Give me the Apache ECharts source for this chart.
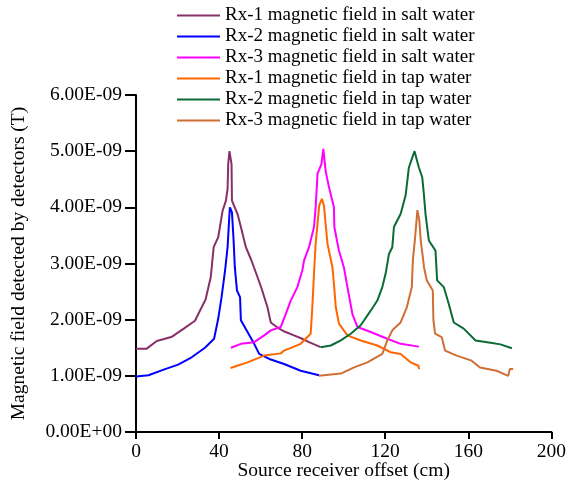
<!DOCTYPE html>
<html>
<head>
<meta charset="utf-8">
<script src="https://cdn.jsdelivr.net/npm/echarts@6/dist/echarts.min.js"></script>
<style>
html,body{margin:0;padding:0;background:#fff;}
#chart{width:569px;height:495px;}
</style>
</head>
<body>
<div id="chart"></div>
<script>
// values in units of 1E-09 T, offsets in cm
var names = [
    'Rx-1 magnetic field in salt water',
    'Rx-2 magnetic field in salt water',
    'Rx-3 magnetic field in salt water',
    'Rx-1 magnetic field in tap water',
    'Rx-2 magnetic field in tap water',
    'Rx-3 magnetic field in tap water'
];
var colors = ['#873068', '#0000ff', '#ff00ff', '#ff6600', '#0a6b35', '#cf6e35'];

var rx1SaltX = [0, 5, 10, 17, 23, 28.4, 30, 33.5, 36, 37.4, 39.6, 41.7, 43.3, 44.1, 44.4, 45, 46, 46.2, 48.9, 50.5, 52.9, 55.3, 58.5, 60.5, 63.3, 64.9, 68.1, 72, 76.1, 80, 83.3, 88.9];
var rx1SaltY = [1.48, 1.48, 1.62, 1.69, 1.84, 1.98, 2.10, 2.36, 2.76, 3.29, 3.47, 3.94, 4.12, 4.33, 4.77, 5.0, 4.77, 4.12, 3.88, 3.65, 3.29, 3.08, 2.76, 2.55, 2.22, 1.95, 1.86, 1.78, 1.72, 1.66, 1.60, 1.51];

var rx2SaltX = [0, 6, 14, 20.3, 26.8, 33.2, 37.6, 39.6, 41.2, 42.9, 44.1, 44.9, 45.2, 46.2, 47, 47.6, 48.6, 50.1, 50.5, 53.7, 56.9, 59.3, 64.9, 71.3, 79.3, 88.1];
var rx2SaltY = [0.99, 1.01, 1.12, 1.20, 1.33, 1.50, 1.66, 2.02, 2.40, 2.88, 3.29, 3.82, 4.00, 3.91, 3.41, 2.93, 2.52, 2.40, 1.99, 1.78, 1.57, 1.39, 1.29, 1.21, 1.09, 1.01];

var rx3SaltX = [45.7, 50.5, 56.9, 61.7, 64.9, 69.7, 72.1, 74.5, 77.7, 80.1, 80.9, 83.3, 85.7, 86.5, 87.4, 89.3, 90.2, 91.3, 92.9, 95.3, 95.5, 97.7, 100.1, 101.8, 104.2, 106.6, 113, 121, 127.4, 136.2];
var rx3SaltY = [1.50, 1.57, 1.60, 1.72, 1.81, 1.87, 2.10, 2.34, 2.58, 2.88, 3.05, 3.29, 3.65, 4.0, 4.60, 4.77, 5.04, 4.65, 4.36, 4.0, 3.65, 3.23, 2.93, 2.58, 2.10, 1.87, 1.78, 1.66, 1.57, 1.52];

var rx1TapX = [45.5, 53.7, 61.7, 69.7, 71.3, 79.3, 84.1, 84.9, 85.7, 86.5, 87.4, 88.2, 89.5, 90.5, 91.3, 92.2, 94.6, 95.3, 96.2, 97.7, 101.8, 108.2, 116.2, 122.6, 127.4, 132.2, 136, 136.3];
var rx1TapY = [1.14, 1.24, 1.36, 1.40, 1.45, 1.57, 1.75, 2.22, 2.82, 3.35, 3.71, 4.03, 4.15, 4.03, 3.71, 3.35, 2.93, 2.64, 2.22, 1.93, 1.72, 1.63, 1.54, 1.42, 1.39, 1.24, 1.18, 1.12];

var rx2TapX = [88.9, 93.8, 98.6, 103.4, 108.2, 113, 116.2, 118.6, 120.2, 121.8, 123.4, 124.2, 127.4, 129.8, 131.4, 134.1, 136.2, 137.8, 138.6, 139.4, 141, 144.2, 145, 148.2, 150.6, 153, 157.8, 163.5, 170.7, 175.5, 181];
var rx2TapY = [1.51, 1.54, 1.63, 1.75, 1.90, 2.16, 2.34, 2.58, 2.82, 3.17, 3.29, 3.65, 3.88, 4.21, 4.71, 5.0, 4.71, 4.54, 4.24, 3.88, 3.41, 3.23, 2.70, 2.58, 2.28, 1.95, 1.84, 1.63, 1.59, 1.56, 1.49];

var rx3TapX = [88.1, 98.6, 105, 111.4, 118.6, 121, 123.4, 127.4, 130.4, 132.8, 133.3, 134.4, 135.5, 136.4, 137.1, 138.7, 140, 142.9, 143.2, 144, 147.2, 148.8, 154.4, 161.6, 165.6, 173.6, 179.2, 180, 181.6];
var rx3TapY = [1.0, 1.04, 1.15, 1.24, 1.39, 1.63, 1.81, 1.95, 2.22, 2.58, 3.05, 3.47, 3.95, 3.77, 3.41, 2.93, 2.70, 2.52, 1.99, 1.75, 1.69, 1.45, 1.36, 1.27, 1.15, 1.09, 1.0, 1.12, 1.12];

var allX = [rx1SaltX, rx2SaltX, rx3SaltX, rx1TapX, rx2TapX, rx3TapX];
var allY = [rx1SaltY, rx2SaltY, rx3SaltY, rx1TapY, rx2TapY, rx3TapY];

function pairs(xs, ys){
    var out = [];
    for(var i=0;i<xs.length;i++){
        out.push([xs[i], ys[i]]);
    }
    return out;
}

// 6 -> "6.00E-09", 0 -> "0.00E+00"
function sciLabel(v){
    var t = v * 1e-9;
    if(Math.abs(t) < 1e-15){
        return '0.00E+00';
    }
    var s = t.toExponential(2).split('e');
    var ex = parseInt(s[1], 10);
    var sign = ex < 0 ? '-' : '+';
    var n = Math.abs(ex);
    return s[0] + 'E' + sign + (n < 10 ? '0' + n : n);
}

var font = "'Liberation Serif', 'Times New Roman', serif";

var series = [];
for(var k=0;k<names.length;k++){
    series.push({
        name: names[k],
        type: 'line',
        data: pairs(allX[k], allY[k]),
        symbol: 'none',
        color: colors[k],
        lineStyle: { width: 2, color: colors[k] },
        animation: false
    });
}

var chart = echarts.init(document.getElementById('chart'));
chart.setOption({
    backgroundColor: '#ffffff',
    textStyle: { fontFamily: font, color: '#000' },
    legend: {
        data: names,
        orient: 'vertical',
        left: 177,
        top: 6,
        padding: 0,
        itemWidth: 43,
        itemHeight: 2,
        itemGap: 2,
        icon: 'rect',
        textStyle: { fontFamily: font, fontSize: 19, lineHeight: 19, color: '#000' }
    },
    grid: {
        left: 136,
        right: 17,
        top: 95,
        bottom: 63
    },
    xAxis: {
        type: 'value',
        min: 0,
        max: 200,
        interval: 40,
        name: 'Source receiver offset (cm)',
        nameLocation: 'middle',
        nameGap: 29,
        nameMoveOverlap: false,
        nameTextStyle: { fontFamily: font, fontSize: 19.5, color: '#000' },
        axisLine: { lineStyle: { color: '#000', width: 2 } },
        axisTick: { inside: false, length: 7, lineStyle: { color: '#000', width: 2 } },
        axisLabel: { fontFamily: font, fontSize: 19.5, color: '#000', margin: 10 },
        splitLine: { show: false }
    },
    yAxis: {
        type: 'value',
        min: 0,
        max: 6,
        interval: 1,
        name: 'Magnetic field detected by detectors (T)',
        nameLocation: 'middle',
        nameGap: 107,
        nameMoveOverlap: false,
        nameTextStyle: { fontFamily: font, fontSize: 19.5, color: '#000' },
        axisLine: { show: true, lineStyle: { color: '#000', width: 2 } },
        axisTick: { show: true, inside: false, length: 11, lineStyle: { color: '#000', width: 2 } },
        axisLabel: { fontFamily: font, fontSize: 19.5, color: '#000', margin: 14, formatter: sciLabel },
        splitLine: { show: false }
    },
    series: series
});
</script>
</body>
</html>
